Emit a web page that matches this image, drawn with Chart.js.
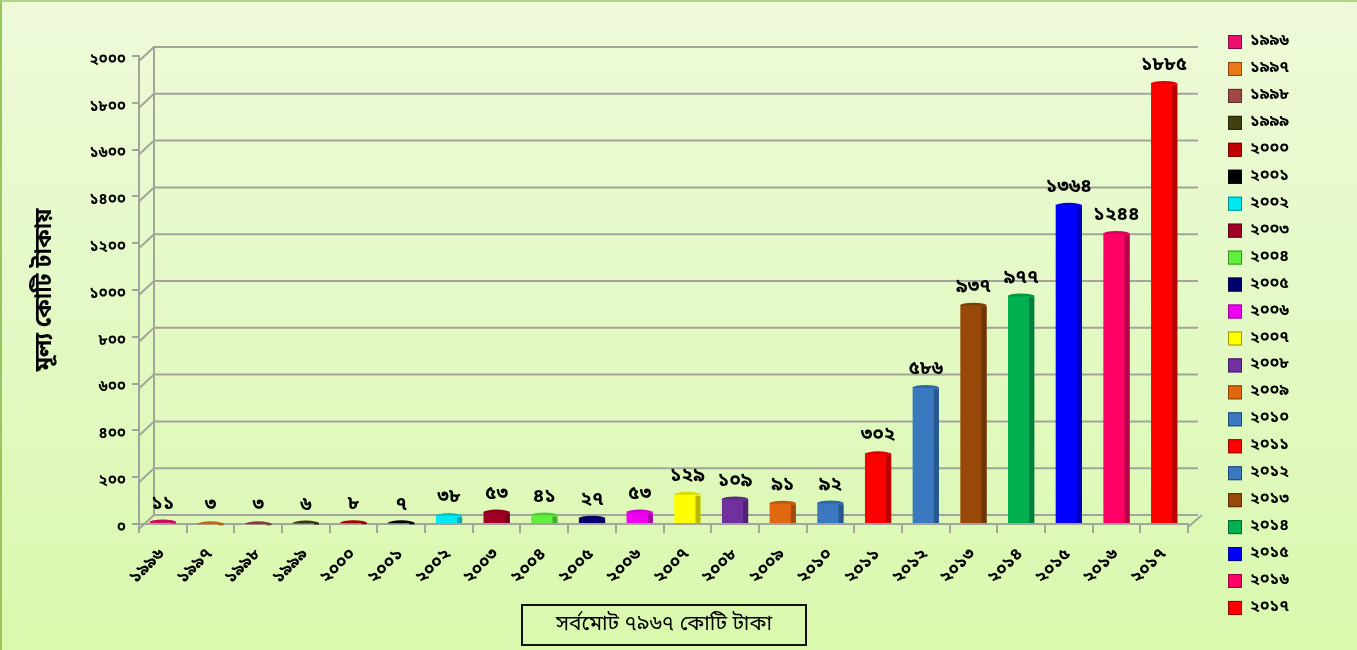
<!DOCTYPE html>
<html>
<head>
<meta charset="utf-8">
<script src="https://cdn.jsdelivr.net/npm/chart.js@4.4.1/dist/chart.umd.min.js"></script>
<style>
  html, body { margin: 0; padding: 0; }
  body { width: 1357px; height: 650px; overflow: hidden; }
  #wrap {
    position: relative; width: 1357px; height: 650px; box-sizing: border-box;
    background: linear-gradient(to bottom, #eefad9 0%, #e3f9c4 50%, #d9f9ad 100%);
    border-left: 2px solid #9cc35c; border-top: 2px solid #b6d487;
  }
  #c { position: absolute; left: 0; top: 0; }
  #total {
    position: absolute; left: 519px; top: 602px; width: 286px; height: 42px; box-sizing: border-box;
    border: 2px solid #111; display: flex; align-items: center; justify-content: center;
    font-family: 'Noto Sans Bengali', 'Lohit Bengali', 'Noto Sans', sans-serif; font-size: 21px; color: #000;
  }
</style>
</head>
<body>
<div id="wrap">
  <canvas id="c" width="1355" height="648"></canvas>
  <div id="total">সর্বমোট ৭৯৬৭ কোটি টাকা</div>
</div>
<script>
const categories = ['১৯৯৬','১৯৯৭','১৯৯৮','১৯৯৯','২০০০','২০০১','২০০২','২০০৩','২০০৪','২০০৫','২০০৬','২০০৭','২০০৮','২০০৯','২০১০','২০১১','২০১২','২০১৩','২০১৪','২০১৫','২০১৬','২০১৭'];
const values = [11, 3, 3, 6, 8, 7, 38, 53, 41, 27, 53, 129, 109, 91, 92, 302, 586, 937, 977, 1364, 1244, 1885];
const barColors = ['#e8106a','#e87818','#a04848','#404010','#c00000','#000000','#00e8f0','#a00028','#60f040','#000070','#f000f0','#ffff00','#7030a0','#e06810','#3a78c0','#ff0000','#3a78c0','#984808','#00b050','#0000ff','#ff0066','#ff0000'];
const yTickValues = [0, 200, 400, 600, 800, 1000, 1200, 1400, 1600, 1800, 2000];
const yTitle = 'মূল্য কোটি টাকায়';

const BN = '০১২৩৪৫৬৭৮৯';
const toBn = n => String(n).replace(/[0-9]/g, d => BN[+d]);
const FONT = "'Noto Sans Bengali', 'Lohit Bengali', 'Noto Sans', sans-serif";

function shade(hex, f) {
  const n = parseInt(hex.slice(1), 16);
  let r = (n >> 16) & 255, g = (n >> 8) & 255, b = n & 255;
  r = Math.round(r * f); g = Math.round(g * f); b = Math.round(b * f);
  return `rgb(${r},${g},${b})`;
}

const gridPlugin = {
  id: 'grid3d',
  beforeDatasetsDraw(chart) {
    const { ctx, chartArea } = chart;
    const y = chart.scales.y;
    const L = chartArea.left, R = chartArea.right;
    ctx.save();
    ctx.strokeStyle = '#a3a59a';
    ctx.lineWidth = 2;
    yTickValues.forEach(v => {
      const py = y.getPixelForValue(v);
      ctx.beginPath();
      ctx.moveTo(L, py + 5);
      ctx.lineTo(L + 15, py - 9);
      ctx.lineTo(R + 10, py - 9);
      ctx.stroke();
    });
    ctx.beginPath();
    ctx.moveTo(L + 15, y.getPixelForValue(2000) - 9);
    ctx.lineTo(L + 15, y.getPixelForValue(0) - 9);
    ctx.stroke();
    ctx.beginPath();
    ctx.moveTo(R, chartArea.bottom + 3);
    ctx.lineTo(R + 14, chartArea.bottom - 9);
    ctx.stroke();
    ctx.restore();
  }
};

const bar3dPlugin = {
  id: 'bar3d',
  afterDatasetsDraw(chart) {
    const { ctx } = chart;
    const meta = chart.getDatasetMeta(0);
    ctx.save();
    meta.data.forEach((el, i) => {
      const { x, y, base, width } = el.getProps(['x', 'y', 'base', 'width'], true);
      const w = width;
      ctx.fillStyle = shade(barColors[i], 0.72);
      ctx.fillRect(x + w / 2 - 5, y + 2, 5, base - y - 2);
      ctx.fillStyle = shade(barColors[i], 0.85);
      ctx.beginPath();
      ctx.ellipse(x, y + 1, w / 2, 3, 0, Math.PI, 2 * Math.PI);
      ctx.fill();
      ctx.fillStyle = '#000';
      ctx.font = `bold 19px ${FONT}`;
      ctx.textAlign = 'center';
      ctx.textBaseline = 'bottom';
      ctx.fillText(toBn(values[i]), x, y - 7);
    });
    ctx.restore();
  }
};

const legendPlugin = {
  id: 'sideLegend',
  afterDraw(chart) {
    const { ctx } = chart;
    ctx.save();
    ctx.font = `bold 16px ${FONT}`;
    ctx.textBaseline = 'middle';
    ctx.textAlign = 'left';
    categories.forEach((c, i) => {
      const cy = 40 + i * 26.95;
      ctx.fillStyle = barColors[i];
      ctx.fillRect(1226, cy - 7, 14, 14);
      ctx.strokeStyle = shade(barColors[i], 0.6);
      ctx.lineWidth = 1;
      ctx.strokeRect(1226.5, cy - 6.5, 13, 13);
      ctx.fillStyle = '#000';
      ctx.fillText(c, 1248, cy);
    });
    ctx.restore();
  }
};

new Chart(document.getElementById('c'), {
  type: 'bar',
  data: {
    labels: categories,
    datasets: [{
      data: values,
      backgroundColor: barColors,
      borderWidth: 0,
      barPercentage: 0.55,
      categoryPercentage: 1.0
    }]
  },
  options: {
    responsive: false,
    animation: false,
    layout: { padding: { left: 0, right: 169, top: 54, bottom: 0 } },
    plugins: { legend: { display: false }, tooltip: { enabled: false } },
    scales: {
      x: {
        afterFit: s => { s.height = 126; },
        grid: { drawOnChartArea: false, drawTicks: true, tickLength: 9, color: '#a3a59a', lineWidth: 2 },
        border: { display: true, color: '#a3a59a', width: 2 },
        ticks: { maxRotation: 45, minRotation: 45, padding: 12, color: '#000', font: { family: FONT, size: 17, weight: 'bold' } }
      },
      y: {
        min: 0, max: 2000,
        afterFit: s => { s.width = 137; },
        afterBuildTicks: s => { s.ticks = yTickValues.map(v => ({ value: v })); },
        grid: { drawOnChartArea: false, drawTicks: true, tickLength: 7, color: '#a3a59a', lineWidth: 2 },
        border: { display: true, color: '#a3a59a', width: 2 },
        ticks: { padding: 6, labelOffset: 5, color: '#000', font: { family: FONT, size: 15, weight: 'bold' }, callback: v => toBn(v) },
        title: { display: true, text: yTitle, color: '#000', padding: { top: 31, bottom: 0 }, font: { family: FONT, size: 23, weight: 'bold' } }
      }
    }
  },
  plugins: [gridPlugin, bar3dPlugin, legendPlugin]
});
</script>
</body>
</html>
